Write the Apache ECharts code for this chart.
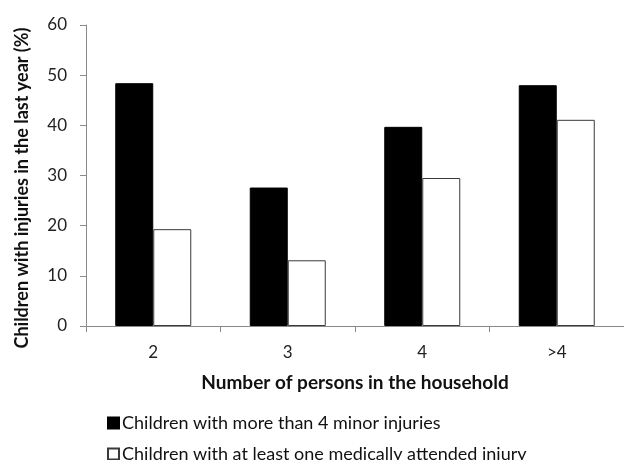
<!DOCTYPE html>
<html>
<head>
<meta charset="utf-8">
<script src="https://cdn.jsdelivr.net/npm/echarts@6/dist/echarts.min.js"></script>
<style>
  html, body { margin: 0; padding: 0; background: #fff; }
  #chart { width: 624px; height: 460px; }
</style>
</head>
<body>
<div id="chart"></div>
<script>
// Household size groups
var categories = ['2', '3', '4', '>4'];
// Share of children (%) per group
var minorInjuries = [48.4, 27.6, 39.7, 48.0];
var medicalInjuries = [19.3, 13.1, 29.5, 41.1];
var yTicks = { min: 0, max: 60, interval: 10 };

var seriesNames = [
  'Children with more than 4 minor injuries',
  'Children with at least one medically attended injury'
];
var FONT = 'Lato, "Open Sans", sans-serif';

// One legend row per series, stacked vertically
function legendRow(name, top) {
  return {
    left: 102,
    top: top,
    itemWidth: 11,
    itemHeight: 11,
    icon: 'rect',
    textStyle: { fontFamily: FONT, fontSize: 18, color: '#111', padding: [0, 0, 0, -2] },
    data: [name]
  };
}

var chart = echarts.init(document.getElementById('chart'), null, { renderer: 'canvas' });
chart.setOption({
  animation: false,
  backgroundColor: '#ffffff',
  grid: { left: 86, right: -2, top: 25, bottom: 134, containLabel: false },
  xAxis: {
    type: 'category',
    data: categories,
    name: 'Number of persons in the household',
    nameLocation: 'middle',
    nameGap: 47,
    nameTextStyle: { fontFamily: FONT, fontWeight: 'bold', fontSize: 19, color: '#111' },
    axisLine: { lineStyle: { color: '#8a8a8a', width: 1 } },
    axisTick: { show: true, length: 6, lineStyle: { color: '#8a8a8a' } },
    axisLabel: { fontFamily: FONT, fontSize: 17, color: '#222', margin: 18 },
    splitLine: { show: false }
  },
  yAxis: {
    type: 'value',
    min: yTicks.min,
    max: yTicks.max,
    interval: yTicks.interval,
    axisLine: { show: true, lineStyle: { color: '#8a8a8a', width: 1 } },
    axisTick: { show: true, length: 6, lineStyle: { color: '#8a8a8a' } },
    axisLabel: { fontFamily: FONT, fontSize: 17, color: '#222', margin: 19 },
    splitLine: { show: false }
  },
  legend: [legendRow(seriesNames[0], 409), legendRow(seriesNames[1], 440)],
  graphic: [{
    type: 'text',
    x: 22,
    y: 188,
    rotation: Math.PI / 2,
    style: {
      text: 'Children with injuries in the last year (%)',
      font: 'bold 18px ' + FONT,
      fill: '#111',
      textAlign: 'center',
      textVerticalAlign: 'middle'
    }
  }],
  series: [
    {
      name: seriesNames[0],
      type: 'bar',
      data: minorInjuries,
      barWidth: 38,
      barGap: '0%',
      itemStyle: { color: '#000000', borderColor: '#000000', borderWidth: 1 }
    },
    {
      name: seriesNames[1],
      type: 'bar',
      data: medicalInjuries,
      barWidth: 38,
      barGap: '0%',
      itemStyle: { color: '#ffffff', borderColor: '#3a3a3a', borderWidth: 1 }
    }
  ]
});
</script>
</body>
</html>
